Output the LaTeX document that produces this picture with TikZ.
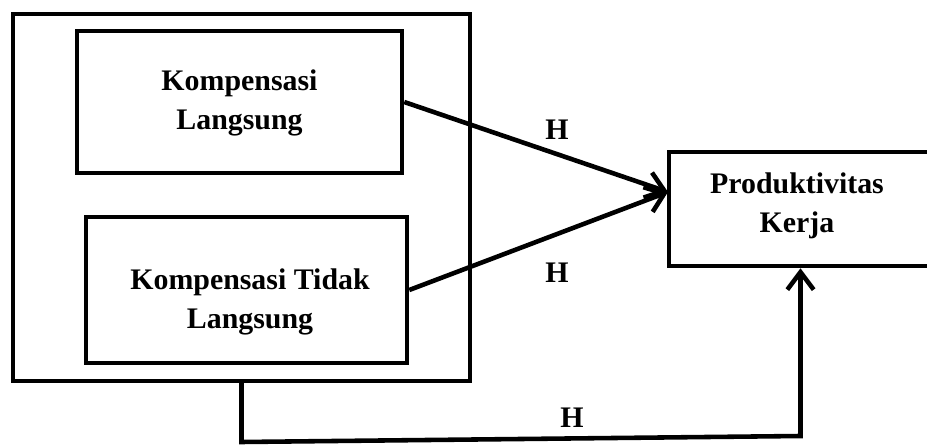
\documentclass[tikz,border=0pt]{standalone}
\usepackage{fontspec}
\setmainfont{Liberation Serif}
\usetikzlibrary{arrows.meta}
\begin{document}
\begin{tikzpicture}[x=0.02cm, y=-0.02cm,
  frame/.style={draw, line width=2.6pt, inner sep=0pt, fill=none},
  lbl/.style={font=\fontsize{17}{22}\selectfont\bfseries, align=center, inner sep=0pt},
  link/.style={line width=2.6pt, line join=miter,
    -{Straight Barb[length=10pt, width=15pt, line width=2.6pt]}}]
\useasboundingbox (0,0) rectangle (927,446);

% enclosing frame of the two compensation variables
\node[frame, minimum width=9.14cm, minimum height=7.34cm] (outer) at (241.5,197.5) {};
% independent variables
\node[frame, minimum width=6.50cm, minimum height=2.84cm] (box1) at (239.5,102) {};
\node[frame, minimum width=6.42cm, minimum height=2.92cm] (box2) at (246.5,290) {};
% dependent variable
\node[frame, minimum width=5.26cm, minimum height=2.28cm] (prod) at (800.5,209) {};

\node[lbl] (t1) at (239.5,103) {Kompensasi\\Langsung};
\node[lbl] (t2) at (250,302) {Kompensasi Tidak\\Langsung};
\node[lbl] (t3) at (797,206) {Produktivitas\\Kerja};

% connectors
\coordinate (tip) at (668,192);
\coordinate (bl) at (241.5,442);
\coordinate (br) at (800.5,436);
\draw[link] (box1.east) -- (tip);
\draw[link] (box2.east) -- (tip);
\draw[link] (outer.south) -- (bl) -- (br) -- (prod.south);

% hypothesis labels
\node[lbl] (h1) at (557,130) {H};
\node[lbl] (h2) at (557,273) {H};
\node[lbl] (h3) at (572,418) {H};
\end{tikzpicture}
\end{document}
